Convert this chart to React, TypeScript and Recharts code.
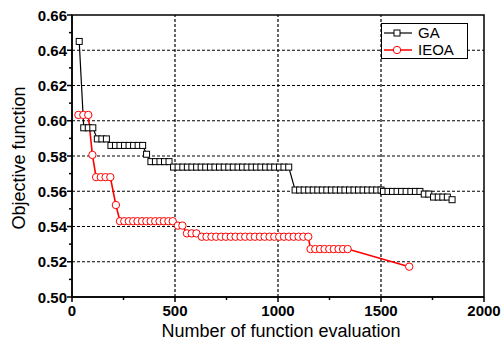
import React from "react";
import { LineChart, Line, XAxis, YAxis, ReferenceLine, ReferenceArea, Legend } from "recharts";

const gaX = [35, 57, 79, 101, 123, 145, 167, 189, 211, 233, 255, 277, 299, 321, 343, 362, 383, 405, 427, 449, 471,
  493, 515, 538, 560, 582, 605, 627, 649, 672, 694, 716, 739, 761, 783, 806, 828, 850, 873, 895, 917, 940, 962, 984, 1007, 1029, 1052,
  1083, 1105, 1127, 1149, 1171, 1193, 1215, 1237, 1259, 1281, 1303, 1325, 1347, 1369, 1391, 1413, 1435, 1457, 1479, 1500,
  1512, 1534, 1556, 1578, 1600, 1622, 1645, 1667, 1689, 1710, 1732, 1755, 1778, 1800, 1822, 1845];
const gaY = [0.645, 0.596, 0.596, 0.596, 0.5897, 0.5897, 0.5897, 0.586, 0.586, 0.586, 0.586, 0.586, 0.586, 0.586, 0.586, 0.581,
  0.5768, 0.5768, 0.5768, 0.5768, 0.5768,
  0.5737, 0.5737, 0.5737, 0.5737, 0.5737, 0.5737, 0.5737, 0.5737, 0.5737, 0.5737, 0.5737, 0.5737, 0.5737, 0.5737, 0.5737, 0.5737, 0.5737, 0.5737, 0.5737, 0.5737, 0.5737, 0.5737, 0.5737, 0.5737, 0.5737, 0.5737,
  0.5607, 0.5607, 0.5607, 0.5607, 0.5607, 0.5607, 0.5607, 0.5607, 0.5607, 0.5607, 0.5607, 0.5607, 0.5607, 0.5607, 0.5607, 0.5607, 0.5607, 0.5607, 0.5607, 0.5607,
  0.5599, 0.5599, 0.5599, 0.5599, 0.5599, 0.5599, 0.5599, 0.5599, 0.5599, 0.5584, 0.5584, 0.5567, 0.5567, 0.5567, 0.5567, 0.5552];

const ieoaX = [31, 55, 79, 99, 117, 140, 163, 186, 213,
  233, 254, 276, 297, 318, 340, 361, 382, 404, 425, 446, 468, 489,
  514, 536, 558, 581, 604,
  630, 653, 677, 700, 724, 747, 771, 794, 818, 841, 865, 888, 912, 935, 959, 982, 1006, 1029, 1053, 1076, 1100, 1123, 1147,
  1158, 1181, 1204, 1226, 1249, 1271, 1294, 1316, 1338, 1637];
const ieoaY = [0.6033, 0.6033, 0.6033, 0.5806, 0.568, 0.568, 0.568, 0.568, 0.5522,
  0.543, 0.543, 0.543, 0.543, 0.543, 0.543, 0.543, 0.543, 0.543, 0.543, 0.543, 0.543, 0.543,
  0.5405, 0.5405, 0.5361, 0.5361, 0.5361,
  0.5342, 0.5342, 0.5342, 0.5342, 0.5342, 0.5342, 0.5342, 0.5342, 0.5342, 0.5342, 0.5342, 0.5342, 0.5342, 0.5342, 0.5342, 0.5342, 0.5342, 0.5342, 0.5342, 0.5342, 0.5342, 0.5342, 0.5342,
  0.5272, 0.5272, 0.5272, 0.5272, 0.5272, 0.5272, 0.5272, 0.5272, 0.5272, 0.5172];

const xTicks = [0, 250, 500, 750, 1000, 1250, 1500, 1750, 2000];
const yTicks = [0.5, 0.51, 0.52, 0.53, 0.54, 0.55, 0.56, 0.57, 0.58, 0.59, 0.6, 0.61, 0.62, 0.63, 0.64, 0.65, 0.66];
const xGrid = [500, 1000, 1500];
const yGrid = [0.52, 0.54, 0.56, 0.58, 0.6, 0.62, 0.64];

const gaData = gaX.map((x, i) => ({ x, y: gaY[i] }));
const ieoaData = ieoaX.map((x, i) => ({ x, y: ieoaY[i] }));

const FONT = "'Liberation Sans', Arial, Helvetica, sans-serif";

const YTick = (props: any) => {
  const { x, y, payload, index } = props;
  const major = index % 2 === 0;
  const len = major ? 5 : 3;
  return (
    <g>
      <line x1={x - len} x2={x} y1={y} y2={y} stroke="#000" strokeWidth={1.5} />
      {major && (
        <text x={x - 5} y={y} dy={5.5} textAnchor="end" fontFamily={FONT} fontWeight="bold" fontSize={15} fill="#000">
          {Number(payload.value).toFixed(2)}
        </text>
      )}
    </g>
  );
};

const XTick = (props: any) => {
  const { x, y, payload, index } = props;
  const major = index % 2 === 0;
  const len = major ? 5 : 3;
  return (
    <g>
      <line x1={x} x2={x} y1={y} y2={y + len} stroke="#000" strokeWidth={1.5} />
      {major && (
        <text x={x} y={y + 19} textAnchor="middle" fontFamily={FONT} fontWeight="bold" fontSize={15} fill="#000">
          {payload.value}
        </text>
      )}
    </g>
  );
};

const SquareDot = (props: any) => {
  const { cx, cy } = props;
  if (cx == null || cy == null) return null;
  return <rect x={cx - 3} y={cy - 3} width={6} height={6} fill="#fff" stroke="#000" strokeWidth={1} />;
};

const CircleDot = (props: any) => {
  const { cx, cy } = props;
  if (cx == null || cy == null) return null;
  return <circle cx={cx} cy={cy} r={3.7} fill="#fff" stroke="#ff0000" strokeWidth={1} />;
};

const LegendBox = () => (
  <div
    style={{
      border: "1.5px solid #000",
      background: "#fff",
      width: 87,
      height: 36,
      boxSizing: "border-box",
      paddingTop: 1,
      fontFamily: FONT,
      fontSize: 15,
      lineHeight: "16px",
      color: "#000",
    }}
  >
    <div style={{ display: "flex", alignItems: "center", height: 16 }}>
      <svg width={32} height={16}>
        <line x1={2} x2={30} y1={8} y2={8} stroke="#000" strokeWidth={1.2} />
        <rect x={12} y={5} width={6} height={6} fill="#fff" stroke="#000" strokeWidth={1} />
      </svg>
      <span style={{ marginLeft: 4 }}>GA</span>
    </div>
    <div style={{ display: "flex", alignItems: "center", height: 17 }}>
      <svg width={32} height={16}>
        <line x1={2} x2={30} y1={8} y2={8} stroke="#ff0000" strokeWidth={1.5} />
        <circle cx={15} cy={8} r={3.7} fill="#fff" stroke="#ff0000" strokeWidth={1} />
      </svg>
      <span style={{ marginLeft: 4 }}>IEOA</span>
    </div>
  </div>
);

export default function App() {
  return (
    <div style={{ position: "absolute", left: 0, top: 0, width: 504, height: 347, background: "#fff" }}>
      <LineChart width={504} height={347} margin={{ top: 15, right: 20, bottom: 0, left: 0 }}>
        <XAxis
          type="number"
          dataKey="x"
          domain={[0, 2000]}
          ticks={xTicks}
          height={50}
          axisLine={{ stroke: "#000", strokeWidth: 1.5 }}
          tickLine={false}
          tickSize={0}
          tickMargin={0}
          tick={<XTick />}
          interval={0}
          allowDataOverflow
          label={(p: any) => (
            <text x={281} y={337} textAnchor="middle" fontFamily={FONT} fontSize={18} fill="#000">
              Number of function evaluation
            </text>
          )}
        />
        <YAxis
          type="number"
          dataKey="y"
          domain={[0.5, 0.66]}
          ticks={yTicks}
          width={72}
          axisLine={{ stroke: "#000", strokeWidth: 1.5 }}
          tickLine={false}
          tickSize={0}
          tickMargin={0}
          tick={<YTick />}
          interval={0}
          allowDataOverflow
          label={(p: any) => (
            <text x={25} y={158} transform="rotate(-90 25 158)" textAnchor="middle" fontFamily={FONT} fontSize={18} fill="#000">
              Objective function
            </text>
          )}
        />
        {yGrid.map((v) => (
          <ReferenceLine key={"y" + v} y={v} stroke="#000" strokeWidth={1.2} strokeDasharray="3 2" />
        ))}
        {xGrid.map((v) => (
          <ReferenceLine key={"x" + v} x={v} stroke="#000" strokeWidth={1.2} strokeDasharray="3 2" />
        ))}
        <ReferenceArea x1={0} x2={2000} y1={0.5} y2={0.66} fill="none" stroke="#000" strokeWidth={1.5} />
        <Line data={gaData} dataKey="y" type="linear" stroke="#000" strokeWidth={1.2} dot={<SquareDot />} isAnimationActive={false} />
        <Line data={ieoaData} dataKey="y" type="linear" stroke="#ff0000" strokeWidth={1.6} dot={<CircleDot />} isAnimationActive={false} />
        <Legend
          layout="horizontal"
          verticalAlign="middle"
          align="center"
          content={() => <LegendBox />}
          wrapperStyle={{ left: 381, top: 23, width: 87, height: 36, right: "auto", bottom: "auto" }}
        />
      </LineChart>
    </div>
  );
}
